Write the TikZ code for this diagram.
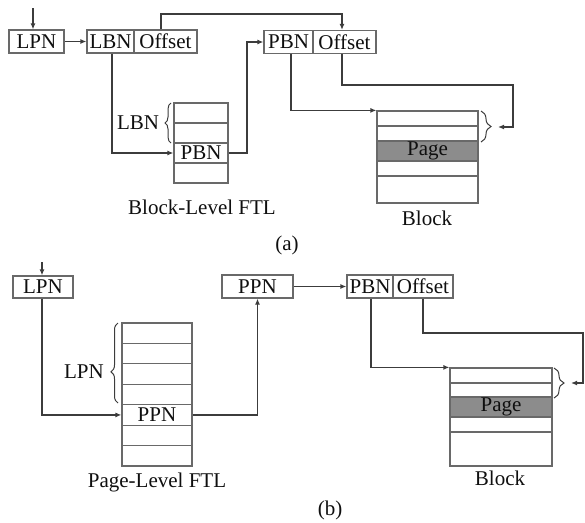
\documentclass[tikz,border=0pt]{standalone}
\usepackage{fontspec}
\setmainfont{Liberation Serif}
\usetikzlibrary{arrows.meta,decorations.pathreplacing,calc}
\definecolor{linec}{RGB}{60,60,60}
\definecolor{boxc}{RGB}{105,105,105}
\definecolor{pagec}{RGB}{140,140,140}
\definecolor{txtc}{RGB}{15,15,15}
\begin{document}
\begin{tikzpicture}[x=1pt,y=1pt,
  every node/.style={font=\fontsize{21}{24}\selectfont, text=txtc},
  fld/.style={draw=boxc, line width=1.2pt, inner sep=0pt, minimum height=23pt},
  cell/.style={draw=boxc, line width=1.2pt, inner sep=0pt},
  conn/.style={draw=linec, line width=1.2pt},
  arr/.style={conn, -{Latex[length=6pt,width=5pt]}},
  brc/.style={draw=linec, line width=1pt, decorate, decoration={brace, amplitude=#1}},
  brc/.default=8pt
]
\useasboundingbox (0,0) rectangle (585,-522);

% ---------------- (a) ----------------
\node[fld, minimum width=55pt] (lpnA) at (36.5,-41.5) {LPN};
\node[fld, minimum width=47pt] (lbnA) at (110.5,-41.5) {LBN};
\node[fld, minimum width=63pt] (offA) at (165.5,-41.5) {Offset};
\node[fld, minimum width=49pt] (pbnA) at (288.5,-42) {PBN};
\node[fld, minimum width=63pt] (poffA) at (344.5,-42) {Offset};

\node[cell, minimum width=54pt, minimum height=20pt] (tA1) at (201,-113) {};
\node[cell, minimum width=54pt, minimum height=20pt] (tA2) at (201,-133) {};
\node[cell, minimum width=54pt, minimum height=20pt] (tA3) at (201,-153) {PBN};
\node[cell, minimum width=54pt, minimum height=20pt] (tA4) at (201,-173) {};

\node[cell, minimum width=101pt, minimum height=15pt] (bA1) at (427.5,-118.5) {};
\node[cell, minimum width=101pt, minimum height=15pt] (bA2) at (427.5,-133.5) {};
\node[cell, minimum width=101pt, minimum height=20pt, fill=pagec] (bA3) at (427.5,-151) {Page};
\node[cell, minimum width=101pt, minimum height=15pt] (bA4) at (427.5,-168.5) {};
\node[cell, minimum width=101pt, minimum height=27pt] (bA5) at (427.5,-189.5) {};

\coordinate (inA) at (33,-8);
\draw[arr] (inA) -- (inA |- lpnA.north);
\draw[arr] (lpnA) -- (lbnA);
\draw[arr] ([xshift=-4.5pt]offA.north) |- (342,-14) -- ([xshift=-2.5pt]poffA.north);
\draw[arr] ([xshift=1.5pt]lbnA.south) |- (tA3.west);
\draw[arr] (tA3.east) -- (247,-153) |- (pbnA.west);
\draw[arr] ([xshift=2.5pt]pbnA.south) |- (bA1.north west);
\coordinate (tipA) at (498,-127);
\draw[arr] ([xshift=-2.5pt]poffA.south) |- (513,-85) |- (tipA);

\draw[brc=6pt] (171,-143) -- (171,-103);
\node (lbnL) at (138,-123) {LBN};
\draw[brc=10pt] (481,-111) -- (481,-142);

\node (ftlA) at (202,-207) {Block-Level FTL};
\node (blkA) at (427,-218) {Block};
\node (capA) at (287,-245) {(a)};

% ---------------- (b) ----------------
\node[fld, minimum width=60pt, minimum height=22pt] (lpnB) at (43,-287) {LPN};
\node[fld, minimum width=71pt] (ppnB) at (257.5,-286.5) {PPN};
\node[fld, minimum width=46pt] (pbnB) at (370,-286.5) {PBN};
\node[fld, minimum width=60pt] (poffB) at (423,-286.5) {Offset};

\foreach \i/\t in {1/,2/,3/,4/,5/PPN,6/,7/}{
  \node[cell, minimum width=70pt, minimum height=20.43pt] (tB\i) at (157,{-323-(\i-0.5)*20.43}) {\t};
}

\node[cell, minimum width=102pt, minimum height=15pt] (bB1) at (501,-375.5) {};
\node[cell, minimum width=102pt, minimum height=14pt] (bB2) at (501,-390) {};
\node[cell, minimum width=102pt, minimum height=20pt, fill=pagec] (bB3) at (501,-407) {Page};
\node[cell, minimum width=102pt, minimum height=15pt] (bB4) at (501,-424.5) {};
\node[cell, minimum width=102pt, minimum height=34pt] (bB5) at (501,-449) {};

\coordinate (inB) at (42,-262);
\draw[arr] (inB) -- (inB |- lpnB.north);
\draw[arr] ([xshift=-1pt]lpnB.south) |- (tB5.west);
\draw[arr] (tB5.east) -| (ppnB.south);
\draw[arr] (ppnB) -- (pbnB);
\draw[arr] ([xshift=1pt]pbnB.south) |- (bB1.north west);
\coordinate (tipB) at (571,-383);
\draw[arr] (poffB.south) |- (583,-333) |- (tipB);

\draw[draw=linec, line width=1pt, decorate, decoration={brace, amplitude=7pt, aspect=0.39}] (118,-403) -- (118,-323);
\node (lpnL) at (84,-372) {LPN};
\draw[brc=10pt] (554,-368) -- (554,-398);

\node (ftlB) at (157,-482) {Page-Level FTL};
\node (blkB) at (500,-478) {Block};
\node (capB) at (330,-510) {(b)};
\end{tikzpicture}
\end{document}
